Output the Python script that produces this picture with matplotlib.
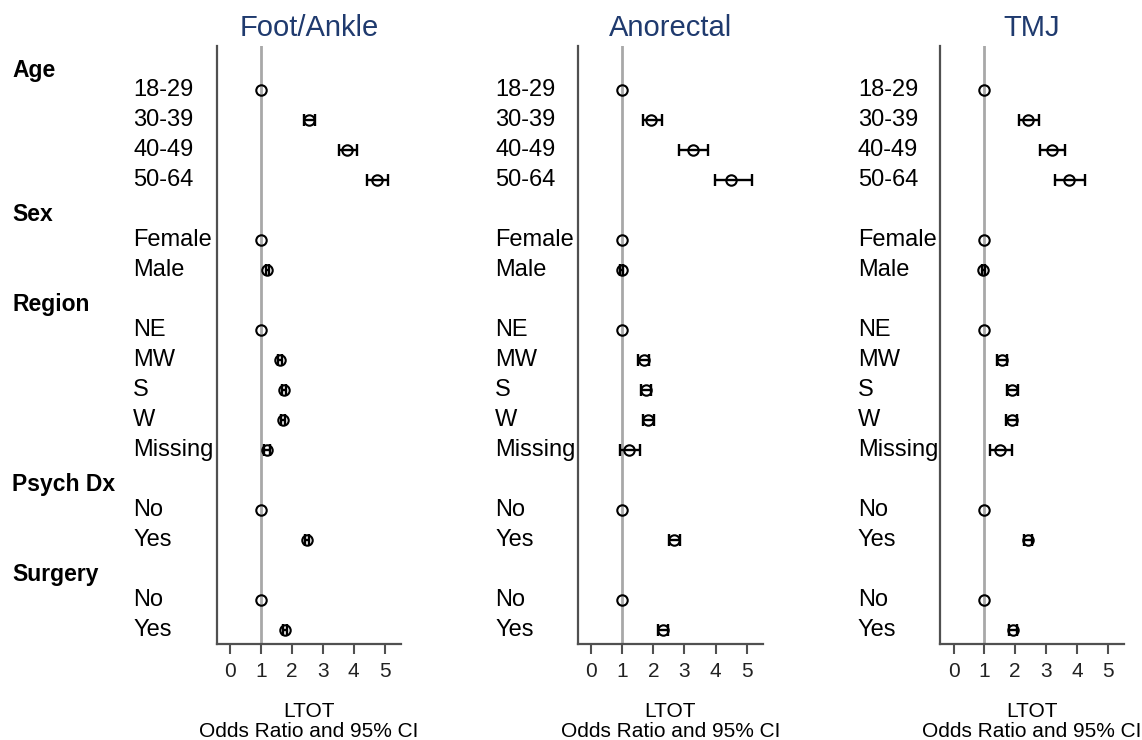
import numpy as np
import matplotlib
matplotlib.use("Agg")
import matplotlib.pyplot as plt
import matplotlib.transforms as mtransforms

plt.rcParams["font.family"] = ["Liberation Sans", "DejaVu Sans"]

# Groups and their categories (top to bottom)
groups = ["Age", "Sex", "Region", "Psych Dx", "Surgery"]
group_items = [
    ["18-29", "30-39", "40-49", "50-64"],
    ["Female", "Male"],
    ["NE", "MW", "S", "W", "Missing"],
    ["No", "Yes"],
    ["No", "Yes"],
]

panels = ["Foot/Ankle", "Anorectal", "TMJ"]

# Odds ratios and 95% CI, one list per panel, same order as the categories
foot_or = [1, 2.55, 3.79, 4.76, 1, 1.20, 1, 1.61, 1.75, 1.70, 1.18, 1, 2.49, 1, 1.77]
foot_lo = [1, 2.38, 3.53, 4.43, 1, 1.15, 1, 1.55, 1.69, 1.64, 1.09, 1, 2.42, 1, 1.70]
foot_hi = [1, 2.76, 4.09, 5.12, 1, 1.25, 1, 1.67, 1.81, 1.76, 1.28, 1, 2.56, 1, 1.84]

ano_or = [1, 1.93, 3.26, 4.51, 1, 0.98, 1, 1.68, 1.76, 1.84, 1.20, 1, 2.67, 1, 2.30]
ano_lo = [1, 1.67, 2.82, 3.97, 1, 0.93, 1, 1.51, 1.59, 1.67, 0.93, 1, 2.50, 1, 2.14]
ano_hi = [1, 2.27, 3.75, 5.19, 1, 1.03, 1, 1.85, 1.93, 2.01, 1.58, 1, 2.84, 1, 2.46]

tmj_or = [1, 2.42, 3.18, 3.75, 1, 0.96, 1, 1.57, 1.90, 1.89, 1.51, 1, 2.43, 1, 1.93]
tmj_lo = [1, 2.12, 2.79, 3.29, 1, 0.91, 1, 1.40, 1.72, 1.71, 1.17, 1, 2.30, 1, 1.79]
tmj_hi = [1, 2.78, 3.61, 4.25, 1, 1.01, 1, 1.74, 2.08, 2.07, 1.89, 1, 2.56, 1, 2.07]

panel_data = [
    (foot_or, foot_lo, foot_hi),
    (ano_or, ano_lo, ano_hi),
    (tmj_or, tmj_lo, tmj_hi),
]

x_ticks = [0, 1, 2, 3, 4, 5]

# ---------------------------------------------------
# Row layout: each group header takes one row
# ---------------------------------------------------
header_y = []
labels = []
rows = []
y = -1
for g, items in zip(groups, group_items):
    header_y.append(y)
    for it in items:
        y += 1
        labels.append(it)
        rows.append(y)
    y += 1
rows = np.array(rows)
header_y = np.array(header_y, dtype=float) + 0.15
header_y[0] += 0.2

W, H = 1142, 740
fig = plt.figure(figsize=(W / 100, H / 100), dpi=100)

ax_left = [216.7, 577.7, 940]
ax_right = [401, 763, 1124]
label_x = [133, 495, 858]
top_px, bottom_px = 46, 644

title_color = "#1f3a6e"
spine_color = "#505050"

for k, name in enumerate(panels):
    ax = fig.add_axes([ax_left[k] / W, 1 - bottom_px / H,
                       (ax_right[k] - ax_left[k]) / W, (bottom_px - top_px) / H])
    odds, lo, hi = [np.array(v) for v in panel_data[k]]

    ax.axvline(1, color="#a8a8a8", lw=2, zorder=1)

    has_ci = hi > lo
    ax.errorbar(odds[has_ci], rows[has_ci],
                xerr=[odds[has_ci] - lo[has_ci], hi[has_ci] - odds[has_ci]],
                fmt="none", ecolor="black", elinewidth=1.7, capsize=4.3,
                capthick=1.7, zorder=3)
    ax.plot(odds, rows, "o", ms=7.5, mfc="none", mec="black", mew=1.5, zorder=4)

    ax.set_xlim(-0.44, 5.53)
    ax.set_ylim(18.47, -1.47)
    ax.set_xticks(x_ticks)
    ax.set_yticks([])
    ax.tick_params(axis="x", direction="out", length=7, width=1.5,
                   color=spine_color, labelsize=15, labelcolor="#222222", pad=6)
    for s in ["top", "right"]:
        ax.spines[s].set_visible(False)
    for s in ["left", "bottom"]:
        ax.spines[s].set_color(spine_color)
        ax.spines[s].set_linewidth(1.6)

    ax.set_title(name, fontsize=21, color=title_color, pad=7)
    ax.set_xlabel("LTOT\nOdds Ratio and 95% CI", fontsize=15,
                  linespacing=1.1, labelpad=15)

    # category labels left of each panel
    trans = mtransforms.blended_transform_factory(fig.transFigure, ax.transData)
    for lab, r in zip(labels, rows):
        ax.text(label_x[k] / W, r, lab, transform=trans, ha="left",
                va="center", fontsize=17, clip_on=False)

    if k == 0:
        for g, hy in zip(groups, header_y):
            ax.text(12 / W, hy, g, transform=trans, ha="left",
                    va="center", fontsize=16.5, fontweight="bold", clip_on=False)

fig.savefig("out.png", dpi=100)
plt.close()
